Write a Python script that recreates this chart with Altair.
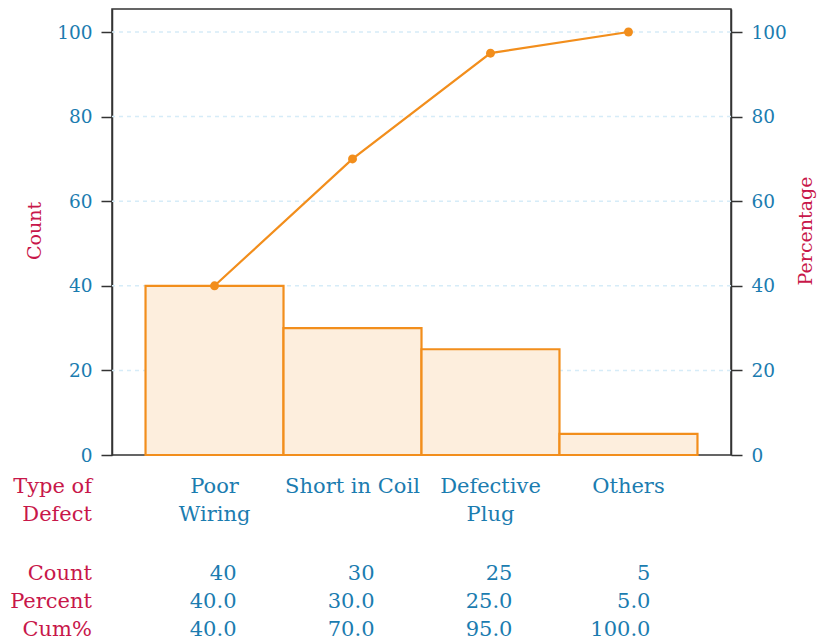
import altair as alt
import pandas as pd

# ---- data ----
categories = ["Poor\nWiring", "Short in Coil", "Defective\nPlug", "Others"]
counts = [40, 30, 25, 5]
count_labels = ["40", "30", "25", "5"]
percent_labels = ["40.0", "30.0", "25.0", "5.0"]
cum_pct = [40.0, 70.0, 95.0, 100.0]
cum_labels = ["40.0", "70.0", "95.0", "100.0"]
row_names = ["Count", "Percent", "Cum%"]
header = "Type of\nDefect"
y_ticks = [0, 20, 40, 60, 80, 100]
grid_values = [20, 40, 60, 80, 100]

df = pd.DataFrame({
    "cat": categories,
    "count": counts,
    "count_lab": count_labels,
    "pct_lab": percent_labels,
    "cum": cum_pct,
    "cum_lab": cum_labels,
})

BLUE = "#1b7cb0"
CRIMSON = "#c8174a"
ORANGE = "#f28e1c"
FILL = "#fdeedd"
GRID = "#d6ecf8"
FONT = "DejaVu Serif"
TXT = 21

xscale = alt.Scale(domain=categories, paddingInner=0, paddingOuter=0.243)
X = alt.X("cat:N", scale=xscale, sort=categories,
          axis=alt.Axis(labels=False, title=None, tickSize=7, grid=False,
                        domain=True, domainColor="#333333", domainWidth=1.5))
X_noaxis = alt.X("cat:N", scale=xscale, sort=categories, axis=None)

ydom = [0, 105.44]
yscale_left = alt.Scale(domain=ydom, nice=False)
left_axis = alt.Axis(orient="left", values=y_ticks, title="Count", grid=False,
                     titleX=-78, titleY=221.5, titleAngle=270,
                     titleBaseline="middle", titleAlign="center")

base = alt.Chart(df)

grid = alt.Chart(pd.DataFrame({"count": grid_values})).mark_rule(
    color=GRID, strokeDash=[4, 4], strokeWidth=1.5).encode(
    y=alt.Y("count:Q", scale=yscale_left, axis=left_axis))

bars = base.mark_bar(fill=FILL, stroke=ORANGE, strokeWidth=2.2).encode(
    x=X,
    y=alt.Y("count:Q", scale=yscale_left, axis=left_axis),
)
left = alt.layer(grid, bars)

Yr = alt.Y("cum:Q", scale=alt.Scale(domain=ydom, nice=False),
           axis=alt.Axis(orient="right", values=y_ticks, title="Percentage", grid=False,
                         titleX=74, titleY=221.5, titleAngle=270,
                         titleBaseline="middle", titleAlign="center"))
line = base.mark_line(color=ORANGE, strokeWidth=2.2).encode(x=X_noaxis, y=Yr)
pts = base.mark_point(color=ORANGE, filled=True, size=80, opacity=1).encode(x=X_noaxis, y=Yr)
right = alt.layer(line, pts)

# category labels under the axis
cat_text = base.mark_text(font=FONT, fontSize=TXT, color=BLUE, align="center",
                          baseline="alphabetic", lineBreak="\n", lineHeight=28,
                          clip=False).encode(
    x=X_noaxis, y=alt.value(484), text="cat:N")

def value_row(field, ypix):
    return base.mark_text(font=FONT, fontSize=TXT, color=BLUE, align="right",
                          baseline="alphabetic", dx=22, clip=False).encode(
        x=X_noaxis, y=alt.value(ypix), text=f"{field}:N")

def left_label(txt, ypix):
    return alt.Chart(pd.DataFrame({"t": [txt]})).mark_text(
        font=FONT, fontSize=TXT, color=CRIMSON, align="right",
        baseline="alphabetic", lineBreak="\n", lineHeight=28, clip=False).encode(
        x=alt.value(-20), y=alt.value(ypix), text="t:N")

row_y = [570.5, 599, 626.5]
layers = [
    cat_text,
    left_label(header, 484),
    value_row("count_lab", row_y[0]),
    value_row("pct_lab", row_y[1]),
    value_row("cum_lab", row_y[2]),
]
for name, yy in zip(row_names, row_y):
    layers.append(left_label(name, yy))

chart = alt.layer(left, right, *layers).resolve_scale(y="independent").properties(
    width=619, height=446,
    autosize=alt.AutoSizeParams(type="none"),
    padding={"left": 104, "top": 1, "right": 88, "bottom": 186},
).configure_view(stroke="#333333", strokeWidth=1.5).configure_axis(
    labelFont=FONT, labelFontSize=18.5, labelColor=BLUE, labelPadding=9,
    titleFont=FONT, titleFontSize=19, titleColor=CRIMSON, titleFontWeight="normal",
    domainColor="#333333", tickColor="#333333", tickSize=11, domainWidth=1.5, tickWidth=1.5,
)

chart.save("out.html", embed_options={"renderer": "svg", "actions": False})
